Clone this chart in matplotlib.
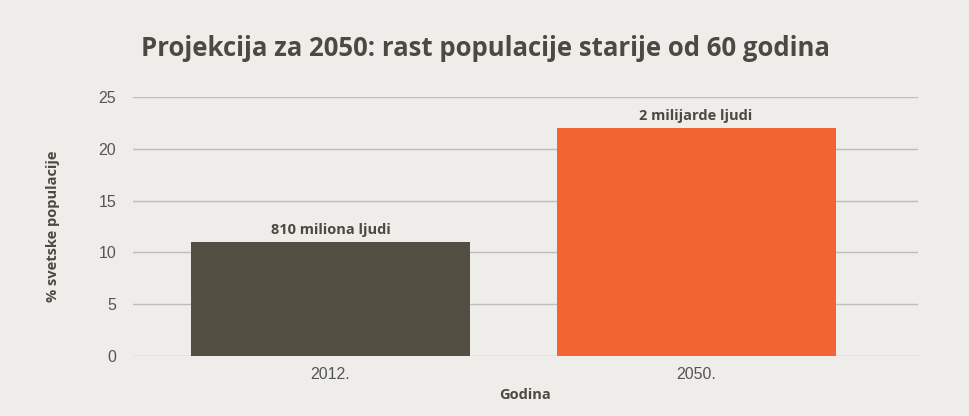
import matplotlib
matplotlib.use("Agg")
import matplotlib.pyplot as plt

years = ["2012.", "2050."]
share = [11, 22]
notes = ["810 miliona ljudi", "2 milijarde ljudi"]
colors = ["#524e41", "#f26532"]

bg = "#eeedea"
text_dark = "#4a4a42"

fig = plt.figure(figsize=(9.7, 4.16), dpi=100, facecolor=bg)
ax = fig.add_axes([133 / 970, 1 - 356 / 416, 785 / 970, 259 / 416], facecolor=bg)

x = range(len(years))
bars = ax.bar(x, share, width=0.763, color=colors, zorder=3)

for b, note in zip(bars, notes):
    ax.text(b.get_x() + b.get_width() / 2, b.get_height() + 0.5, note,
            ha="center", va="bottom", fontsize=10.5, fontweight="bold",
            color=text_dark, family="Open Sans")

ax.set_ylim(0, 25)
ax.set_xlim(-0.54, 1.607)
ax.set_yticks([0, 5, 10, 15, 20, 25])
ax.set_xticks(list(x))
ax.set_xticklabels(years)
ax.yaxis.grid(True, color="#bdbdbd", linewidth=1, zorder=0)
for s in ax.spines.values():
    s.set_visible(False)
ax.tick_params(length=0, labelsize=11.5, colors="#555555", pad=12)
ax.tick_params(axis="x", pad=8)
for lab in ax.get_xticklabels() + ax.get_yticklabels():
    lab.set_family("Liberation Sans")

ax.set_xlabel("Godina", fontsize=10.5, fontweight="bold", color=text_dark,
              family="Open Sans", labelpad=4)
ax.set_ylabel("% svetske populacije", fontsize=10.5, fontweight="bold",
              color=text_dark, family="Open Sans", labelpad=28)

fig.text(0.5, 1 - 48 / 416, "Projekcija za 2050: rast populacije starije od 60 godina",
         ha="center", va="center", fontsize=18.5, fontweight="bold",
         color=text_dark, family="Open Sans")

fig.savefig("out.png", dpi=100, facecolor=bg)
